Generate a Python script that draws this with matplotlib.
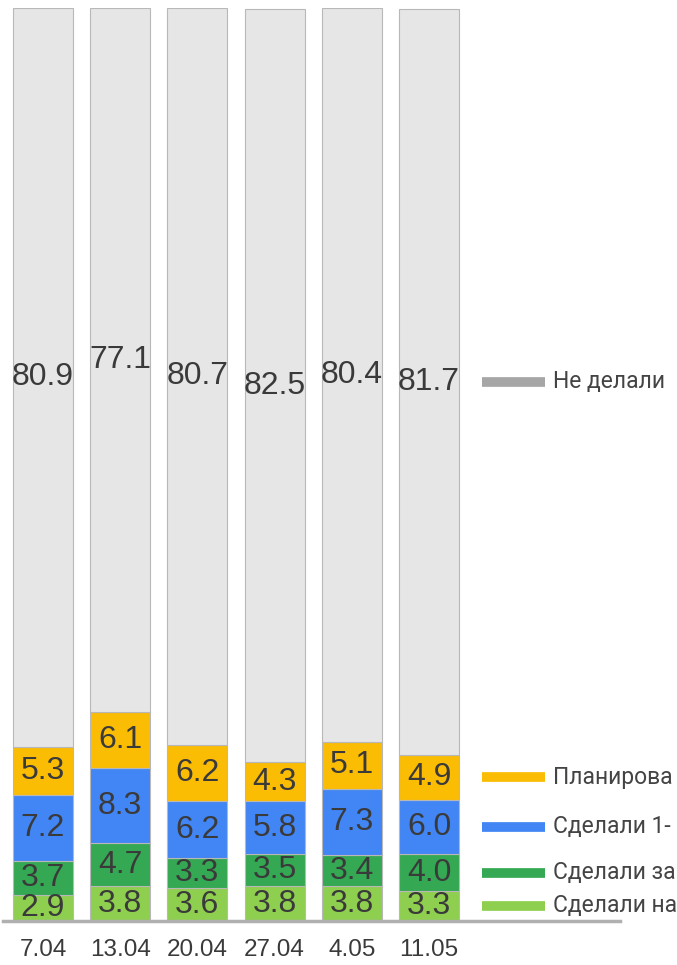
import numpy as np
import matplotlib
matplotlib.use("Agg")
import matplotlib.pyplot as plt
import matplotlib.transforms as mtransforms

# Datos
fechas = ['7.04', '13.04', '20.04', '27.04', '4.05', '11.05']
# etiquetas tal como se ven (cortadas en el borde de la imagen original)
series = ['Сделали на', 'Сделали за', 'Сделали 1-', 'Планирова', 'Не делали']
sdelali_na = [2.9, 3.8, 3.6, 3.8, 3.8, 3.3]
sdelali_za = [3.7, 4.7, 3.3, 3.5, 3.4, 4.0]
sdelali_1 = [7.2, 8.3, 6.2, 5.8, 7.3, 6.0]
planirovali = [5.3, 6.1, 6.2, 4.3, 5.1, 4.9]
ne_delali = [80.9, 77.1, 80.7, 82.5, 80.4, 81.7]

colores = ['#8fcf4f', '#34a853', '#4285f4', '#fbbc04', '#e6e6e6']
colores_leyenda = ['#8fcf4f', '#34a853', '#4285f4', '#fbbc04', '#a6a6a6']

valores = [sdelali_na, sdelali_za, sdelali_1, planirovali, ne_delali]

fig = plt.figure(figsize=(6.77, 9.65), dpi=100)
ax = fig.add_axes([3 / 677, 44 / 965, 617 / 677, 913 / 965])

x = np.arange(len(fechas))
fuente_num = ['Liberation Sans', 'DejaVu Sans']

bottom = np.zeros(len(fechas))
for vals, col in zip(valores, colores):
    vals = np.array(vals)
    ax.bar(x, vals, width=0.777, bottom=bottom, color=col,
           edgecolor='#b8b8b8', linewidth=0.8)
    for xi, b, v in zip(x, bottom, vals):
        ax.text(xi, b + v / 2, f'{v:.1f}', ha='center', va='center',
                fontsize=23, color='#3a3a3a', family=fuente_num)
    bottom = bottom + vals

ax.set_xlim(-0.518, 7.474)
ax.set_ylim(0, 100)

# Leyenda a la altura de los segmentos de la ultima barra
trans = mtransforms.blended_transform_factory(fig.transFigure, ax.transData)
acum = 0
for nombre, vals, col in zip(series, valores, colores_leyenda):
    centro = acum + vals[-1] / 2
    acum += vals[-1]
    ax.plot([482 / 677, 545 / 677], [centro, centro], color=col, lw=7,
            solid_capstyle='butt', transform=trans, clip_on=False)
    ax.text(553 / 677, centro, nombre, transform=trans, ha='left', va='center',
            fontsize=16.5, color='#444444', family=['Roboto', 'DejaVu Sans'])

for s in ['top', 'right', 'left']:
    ax.spines[s].set_visible(False)
ax.spines['bottom'].set_color('#b0b0b0')
ax.spines['bottom'].set_linewidth(2.5)
ax.set_yticks([])
ax.set_xticks(x)
ax.set_xticklabels(fechas, fontsize=17.5, color='#3a3a3a', family=fuente_num)
ax.tick_params(axis='x', length=0, pad=13)

fig.savefig('out.png', dpi=100)
